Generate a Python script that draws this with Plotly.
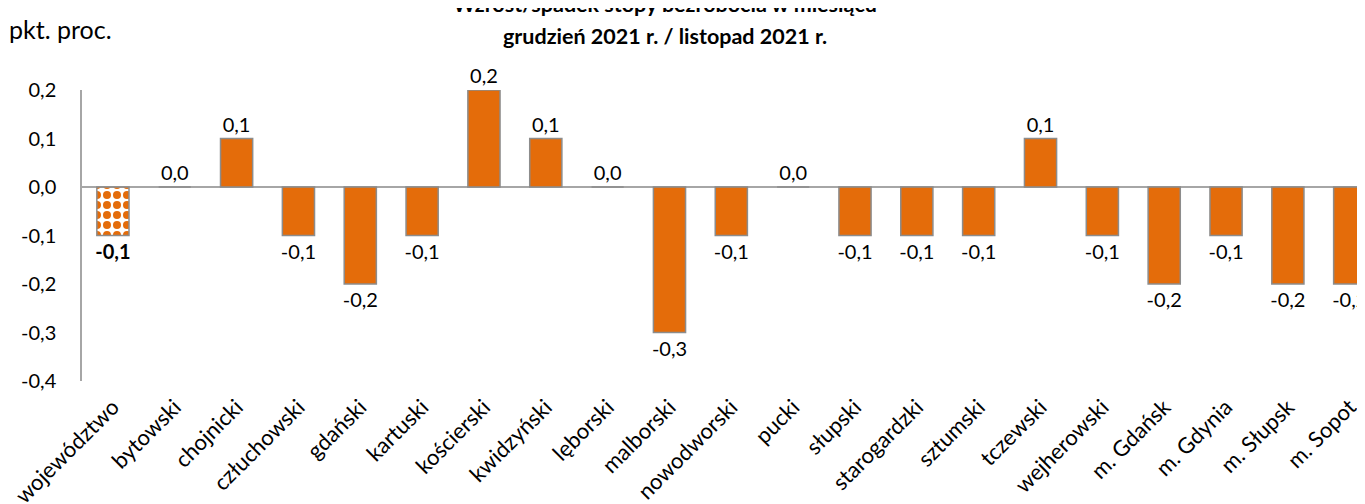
import plotly.graph_objects as go

categories = ["województwo", "bytowski", "chojnicki", "człuchowski", "gdański", "kartuski",
              "kościerski", "kwidzyński", "lęborski", "malborski", "nowodworski", "pucki",
              "słupski", "starogardzki", "sztumski", "tczewski", "wejherowski", "m. Gdańsk",
              "m. Gdynia", "m. Słupsk", "m. Sopot"]
values = [-0.1, 0.0, 0.1, -0.1, -0.2, -0.1, 0.2, 0.1, 0.0, -0.3, -0.1, 0.0,
          -0.1, -0.1, -0.1, 0.1, -0.1, -0.2, -0.1, -0.2, -0.2]
y_ticks = [0.2, 0.1, 0.0, -0.1, -0.2, -0.3, -0.4]

def fmt(v):
    return f"{v:.1f}".replace(".", ",").replace("-0,0", "0,0")

labels = [fmt(v) for v in values]
labels[0] = "<b>" + labels[0] + "</b>"

ORANGE = "#E46C0A"
FONT = "Lato"
W, H = 1365, 504
OFF = 8  # page body margin
ML, MT, MB = 82 - OFF, 90 - OFF, 504 - (381 - OFF)
PH = H - MT - MB
PW = W - ML

def py(p):
    return 1 + (MT - (p - OFF)) / PH

def px(p):
    return ((p - OFF) - ML) / PW

colors = [ORANGE] * len(values)
shapes = [""] * len(values)
shapes[0] = "."

fig = go.Figure()
fig.add_trace(go.Bar(
    x=categories, y=values,
    width=0.52,
    marker=dict(color=colors,
                line=dict(color="#8c8c8c", width=1.5),
                pattern=dict(shape=shapes, fgcolor=ORANGE, bgcolor="white",
                             size=10, solidity=0.5, fillmode="replace")),
    text=labels, textposition="outside", cliponaxis=False, constraintext="none",
    textfont=dict(family=FONT, size=20, color="black"),
    hoverinfo="skip",
))

fig.update_layout(
    width=W, height=H,
    margin=dict(l=ML, r=0, t=MT, b=MB),
    plot_bgcolor="white", paper_bgcolor="white",
    font=dict(family=FONT, size=20, color="black"),
    showlegend=False,
    annotations=[
        dict(text="<b>Wzrost/spadek stopy bezrobocia w miesiącu</b>", xref="paper", yref="paper",
             x=px(665), y=py(4), xanchor="center", yanchor="middle",
             showarrow=False, font=dict(family=FONT, size=21.5, color="black")),
        dict(text="<b>grudzień 2021 r. / listopad 2021 r.</b>", xref="paper", yref="paper",
             x=px(665), y=py(36), xanchor="center", yanchor="middle",
             showarrow=False, font=dict(family=FONT, size=21.5, color="black")),
        dict(text="pkt. proc.", xref="paper", yref="paper",
             x=px(7), y=py(29), xanchor="left", yanchor="middle",
             showarrow=False, font=dict(family=FONT, size=25, color="black")),
    ],
)
span = PW / 61.84
fig.update_xaxes(range=[-0.5, -0.5 + span], showline=False, ticks="", tickangle=-45,
                 tickfont=dict(family=FONT, size=22), showgrid=False, automargin=False,
                 ticklabelstandoff=8)
fig.update_yaxes(range=[-0.4, 0.2], tickvals=y_ticks, ticktext=[fmt(v) for v in y_ticks],
                 showline=True, linecolor="#a6a6a6", linewidth=1.5, ticks="", showgrid=False,
                 zeroline=True, zerolinecolor="#a6a6a6", zerolinewidth=1.5,
                 tickfont=dict(family=FONT, size=20), ticklabelstandoff=20, automargin=False)

fig.write_html("out.html")
